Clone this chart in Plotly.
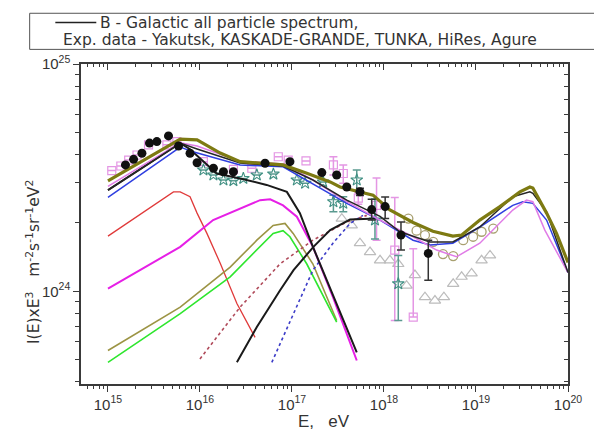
import plotly.graph_objects as go

# ---------------- model curves (E in eV, I(E)E^3) ----------------
E_olive = [1e15, 6.1e15, 9.3e15, 1.66e16, 2.73e16, 5.3e16, 8.0e16, 1.45e17, 2.6e17, 3.33e17,
           7.6e17, 1.16e18, 2.07e18, 3.4e18, 5.6e18, 7.0e18, 1.10e19, 1.82e19, 3.0e19, 3.85e19,
           4.15e19, 5.85e19, 7.5e19, 1e20]
Y_olive = [3.06e24, 4.67e24, 4.64e24, 4.06e24, 3.72e24, 3.66e24, 3.60e24, 3.31e24, 3.03e24, 2.88e24,
           2.65e24, 2.28e24, 2.01e24, 1.84e24, 1.75e24, 1.77e24, 2.06e24, 2.36e24, 2.74e24, 2.88e24,
           2.85e24, 2.21e24, 1.80e24, 1.34e24]

E_total = [1e15, 6.1e15, 9.3e15, 2.73e16, 8.0e16, 1.69e17, 3.94e17, 9.06e17, 1.49e18, 3.16e18,
           5.6e18, 1.10e19, 2.51e19, 3.85e19, 4.15e19, 5.85e19, 1e20]
Y_total = [2.79e24, 4.49e24, 4.23e24, 3.67e24, 3.56e24, 3.09e24, 2.52e24, 2.14e24, 1.83e24, 1.65e24,
           1.65e24, 1.92e24, 2.61e24, 2.74e24, 2.70e24, 2.24e24, 1.21e24]

E_pink = [1e15, 6.1e15, 9.3e15, 2.73e16, 8.0e16, 1.69e17, 3.94e17, 9.06e17, 2.07e18, 3.73e18,
          6.15e18, 1.10e19, 2.51e19, 3.54e19, 4.15e19, 5.6e19, 1e20]
Y_pink = [2.90e24, 4.50e24, 4.36e24, 3.74e24, 3.63e24, 3.09e24, 2.48e24, 2.06e24, 1.74e24, 1.52e24,
          1.42e24, 1.63e24, 2.28e24, 2.52e24, 2.48e24, 1.86e24, 1.21e24]

E_blue = [1e15, 6.1e15, 8.4e15, 2.73e16, 8.0e16, 1.69e17, 3.94e17, 9.06e17, 2.07e18, 3.16e18,
          5.6e18, 1.10e19, 2.51e19, 3.23e19, 4.15e19, 5.85e19, 1e20]
Y_blue = [2.59e24, 4.31e24, 4.11e24, 3.60e24, 3.53e24, 2.97e24, 2.44e24, 2.06e24, 1.68e24, 1.60e24,
          1.63e24, 1.92e24, 2.39e24, 2.48e24, 2.44e24, 2.06e24, 1.21e24]

E_gal = [1e15, 6.1e15, 7.8e15, 1.52e16, 2.73e16, 5.3e16, 8.8e16, 1.22e17, 1.69e17, 2.39e17, 3.59e17, 5.06e17]
Y_gal = [2.79e24, 4.49e24, 4.22e24, 3.30e24, 3.14e24, 2.94e24, 2.74e24, 2.21e24, 1.57e24, 1.12e24, 7.45e23, 5.40e23]

E_red = [1e15, 5.15e15, 6.1e15, 7.8e15, 9.3e15, 1.19e16, 1.66e16, 2.52e16, 3.97e16]
Y_red = [1.75e24, 2.74e24, 2.74e24, 2.61e24, 2.21e24, 1.80e24, 1.33e24, 8.85e23, 6.28e23]

E_mag = [1e15, 6.1e15, 1.39e16, 4.5e16, 5.8e16, 8.0e16, 1.13e17, 1.69e17, 2.79e17, 5.06e17]
Y_mag = [1.03e24, 1.57e24, 2.06e24, 2.52e24, 2.54e24, 2.39e24, 2.13e24, 1.57e24, 9.44e23, 4.97e23]

E_olthin = [1e15, 6.1e15, 2.13e16, 4.15e16, 6.24e16, 8.4e16, 1.03e17, 1.69e17, 3.06e17]
Y_olthin = [5.50e23, 8.53e23, 1.28e24, 1.68e24, 1.95e24, 1.99e24, 1.80e24, 1.32e24, 7.45e23]

E_green = [1e15, 6.1e15, 2.13e16, 6.24e16, 8.0e16, 9.5e16, 1.45e17, 3.06e17]
Y_green = [4.88e23, 7.98e23, 1.16e24, 1.80e24, 1.85e24, 1.74e24, 1.32e24, 7.33e23]

E_xgal = [2.52e16, 4.15e16, 7.4e16, 1.04e17, 1.71e17, 2.6e17, 4.28e17, 8.3e17]
Y_xgal = [4.88e23, 6.97e23, 1.01e24, 1.24e24, 1.57e24, 1.86e24, 2.07e24, 2.09e24]

E_reddot = [1.0e16, 2.73e16, 7.4e16, 1.69e17, 3.94e17, 6.5e17]
Y_reddot = [5.05e23, 8.53e23, 1.32e24, 1.68e24, 2.02e24, 2.16e24]

E_bluedot = [6.04e16, 1.04e17, 1.69e17, 2.79e17, 4.28e17, 5.9e17]
Y_bluedot = [4.88e23, 7.98e23, 1.24e24, 1.63e24, 1.99e24, 2.16e24]

# ---------------- experimental data ----------------
E_yak = [1.55e15, 1.90e15, 2.34e15, 2.83e15, 3.40e15, 4.55e15, 5.85e15, 7.8e15, 9.3e15, 1.40e16,
         1.80e16, 2.31e16, 5.1e16, 9.5e16, 2.11e17, 3.06e17, 3.94e17, 5.48e17, 7.35e17, 1.03e18,
         1.53e18, 3.03e18]
Y_yak = [3.60e24, 3.81e24, 4.05e24, 4.49e24, 4.56e24, 4.83e24, 4.36e24, 4.05e24, 3.68e24, 3.48e24,
         3.36e24, 3.36e24, 3.66e24, 3.72e24, 3.33e24, 3.25e24, 2.88e24, 2.74e24, 2.29e24, 2.36e24,
         1.77e24, 1.47e24]
Yak_err_up = [0]*17 + [0.10e24, 0.25e24, 0.24e24, 0.25e24, 0.21e24]
Yak_err_dn = [0]*17 + [0.10e24, 0.23e24, 0.27e24, 0.25e24, 0.35e24]

E_kg = [1.10e15, 1.38e15, 1.68e15, 2.07e15, 2.76e15, 4.37e15, 5.61e15, 1.09e16, 2.31e16, 3.66e16,
        7.1e16, 9.1e16, 1.42e17, 2.82e17, 3.61e17, 5.26e17, 8.3e17, 1.31e18, 2.08e18]
Y_kg = [3.40e24, 3.56e24, 3.78e24, 3.98e24, 4.41e24, 4.41e24, 4.56e24, 3.72e24, 3.44e24, 3.48e24,
        3.91e24, 3.78e24, 3.75e24, 3.60e24, 3.30e24, 2.57e24, 2.39e24, 1.52e24, 7.71e23]
Kg_err_up = [0]*13 + [0.31e24, 0.30e24, 0.15e24, 0.76e24, 1.07e24, 0.77e24]
Kg_err_dn = [0]*13 + [0.35e24, 0.31e24, 0.15e24, 0.71e24, 0.775e24, 0]

E_tunka = [1.09e16, 1.40e16, 1.80e16, 2.31e16, 2.96e16, 4.15e16, 6.28e16, 1.13e17, 1.39e17, 2.18e17,
           2.82e17, 3.61e17, 5.06e17, 7.98e17, 1.43e18]
Y_tunka = [3.42e24, 3.25e24, 3.09e24, 3.07e24, 3.14e24, 3.25e24, 3.28e24, 3.09e24, 2.99e24, 3.03e24,
           2.48e24, 2.44e24, 3.09e24, 2.06e24, 1.08e24]
Tk_err_up = [0]*10 + [0.17e24, 0.17e24, 0.33e24, 0.49e24, 0.36e24]
Tk_err_dn = [0]*10 + [0.24e24, 0.20e24, 0.30e24, 0.36e24, 0.335e24]

E_hires = [1.84e18, 2.26e18, 2.79e18, 3.43e18, 4.38e18, 5.65e18, 7.26e18, 9.3e18, 1.15e19, 1.54e19]
Y_hires = [2.09e24, 1.85e24, 1.77e24, 1.65e24, 1.46e24, 1.43e24, 1.68e24, 1.74e24, 1.83e24, 1.89e24]

E_agure = [3.48e17, 4.46e17, 5.48e17, 7.05e17, 9.06e17, 1.16e18, 1.43e18, 1.76e18, 2.17e18, 2.79e18,
           3.58e18, 4.48e18, 5.65e18, 6.98e18, 8.96e18, 1.15e19, 1.42e19]
Y_agure = [2.09e24, 1.95e24, 1.63e24, 1.49e24, 1.37e24, 1.37e24, 1.32e24, 1.06e24, 1.18e24, 9.44e23,
           9.12e23, 9.44e23, 1.08e24, 1.16e24, 1.20e24, 1.37e24, 1.44e24]

x_tickvals = [1e15, 1e16, 1e17, 1e18, 1e19, 1e20]
x_ticktext = ["10<sup>15</sup>", "10<sup>16</sup>", "10<sup>17</sup>", "10<sup>18</sup>",
              "10<sup>19</sup>", "10<sup>20</sup>"]
y_tickvals = [1e24, 1e25]
y_ticktext = ["10<sup>24</sup>", "10<sup>25</sup>"]

FONT = "Liberation Sans, Arial, sans-serif"
WFONT = "DejaVu Sans, Verdana, sans-serif"
AX = "#3a3a3a"
NB = "\u00a0"

fig = go.Figure()


def line(x, y, color, width, dash="solid"):
    fig.add_trace(go.Scatter(x=x, y=y, mode="lines", line=dict(color=color, width=width, dash=dash),
                             showlegend=False, hoverinfo="skip"))


# experimental points first (drawn under lines)
fig.add_trace(go.Scatter(x=E_agure, y=Y_agure, mode="markers", showlegend=False,
                         marker=dict(symbol="triangle-up-open", size=10, color="#bcbcbc", line=dict(width=1.2))))
fig.add_trace(go.Scatter(x=E_hires, y=Y_hires, mode="markers", showlegend=False,
                         marker=dict(symbol="circle-open", size=9, color="#a8a070", line=dict(width=1.3))))
fig.add_trace(go.Scatter(x=E_kg, y=Y_kg, mode="markers", showlegend=False,
                         marker=dict(symbol="square-open", size=8, color="#e496e4", line=dict(width=1.2)),
                         error_y=dict(type="data", array=Kg_err_up, arrayminus=Kg_err_dn, color="#e496e4",
                                      thickness=1.5, width=4)))
fig.add_trace(go.Scatter(x=E_tunka, y=Y_tunka, mode="markers", showlegend=False,
                         marker=dict(symbol="star-open", size=9, color="#3f8f82", line=dict(width=1.1)),
                         error_y=dict(type="data", array=Tk_err_up, arrayminus=Tk_err_dn, color="#5b9a90",
                                      thickness=1.5, width=4)))

# model curves
line(E_red, Y_red, "#e03a3a", 1.3)
line(E_mag, Y_mag, "#e61fe6", 2)
line(E_olthin, Y_olthin, "#9c9444", 1.6)
line(E_green, Y_green, "#2ee62e", 1.6)
line(E_reddot, Y_reddot, "#b04a5a", 1.6, "dot")
line(E_bluedot, Y_bluedot, "#3c3cc8", 1.6, "dot")
line(E_xgal, Y_xgal, "#1a1a1a", 2)
line(E_gal, Y_gal, "#1a1a1a", 2)
line(E_blue, Y_blue, "#2f3fe0", 1.5)
line(E_pink, Y_pink, "#e07ce6", 1.5)
line(E_total, Y_total, "#262626", 1.5)
line(E_olive, Y_olive, "#7d7a12", 3.2)

fig.add_trace(go.Scatter(x=E_yak, y=Y_yak, mode="markers", showlegend=False,
                         marker=dict(symbol="circle", size=9, color="#101010"),
                         error_y=dict(type="data", array=Yak_err_up, arrayminus=Yak_err_dn, color="#333333",
                                      thickness=1.5, width=4)))

# dummy trace to enable mirrored (inside-tick) axes
fig.add_trace(go.Scatter(x=[1e15], y=[1e24], xaxis="x2", yaxis="y2", mode="markers",
                         marker=dict(opacity=0), showlegend=False, hoverinfo="skip"))

xminor = [m * 10.0 ** d for d in range(14, 20) for m in range(2, 10) if 10 ** 14.7 <= m * 10.0 ** d <= 1e20]
yminor = [m * 10.0 ** d for d in range(23, 25) for m in range(2, 10) if 10 ** 23.59 <= m * 10.0 ** d <= 1e25]

xr = [14.707, 20.0]
yr = [23.593, 25.0]

fig.update_layout(
    width=594, height=440,
    margin=dict(l=81, r=26, t=64, b=56),
    paper_bgcolor="white", plot_bgcolor="white",
    font=dict(family=FONT, color="#333333"),
    showlegend=False,
    xaxis=dict(type="log", range=xr, showgrid=False, zeroline=False,
               showline=True, linecolor=AX, linewidth=1.5,
               ticks="outside", ticklen=6, tickwidth=1.3, tickcolor=AX,
               tickmode="array", tickvals=x_tickvals, ticktext=x_ticktext,
               tickfont=dict(size=15, family=FONT, color="#333333"),
               minor=dict(ticks="outside", ticklen=3, tickwidth=1.1, tickcolor=AX,
                          tickmode="array", tickvals=xminor, showgrid=False)),
    yaxis=dict(type="log", range=yr, showgrid=False, zeroline=False,
               showline=True, linecolor=AX, linewidth=1.5,
               ticks="outside", ticklen=6, tickwidth=1.3, tickcolor=AX,
               tickmode="array", tickvals=y_tickvals, ticktext=y_ticktext,
               tickfont=dict(size=15, family=FONT, color="#333333"),
               minor=dict(ticks="outside", ticklen=4, tickwidth=1.1, tickcolor=AX,
                          tickmode="array", tickvals=yminor, showgrid=False)),
    xaxis2=dict(type="log", range=xr, overlaying="x", side="top", anchor="y2",
                showgrid=False, zeroline=False, showline=True, linecolor=AX, linewidth=1.5,
                ticks="inside", ticklen=6, tickwidth=1.3, tickcolor=AX,
                tickmode="array", tickvals=x_tickvals, showticklabels=False,
                minor=dict(ticks="inside", ticklen=3, tickwidth=1.1, tickcolor=AX,
                           tickmode="array", tickvals=xminor, showgrid=False)),
    yaxis2=dict(type="log", range=yr, overlaying="y", side="right", anchor="x2",
                showgrid=False, zeroline=False, showline=True, linecolor=AX, linewidth=1.5,
                ticks="inside", ticklen=6, tickwidth=1.3, tickcolor=AX,
                tickmode="array", tickvals=y_tickvals, showticklabels=False,
                minor=dict(ticks="inside", ticklen=4, tickwidth=1.1, tickcolor=AX,
                           tickmode="array", tickvals=yminor, showgrid=False)),
)

# axis titles
fig.add_annotation(text="E," + NB * 3 + "eV", xref="paper", yref="paper", x=0.499, y=-0.152,
                   showarrow=False, font=dict(size=17, family=FONT, color="#333333"))
fig.add_annotation(text="I(E)xE<sup>3</sup>" + NB * 3 +
                   "m<sup>-2</sup>s<sup>-1</sup>sr<sup>-1</sup>eV<sup>2</sup>",
                   xref="paper", yref="paper", x=-0.1245, y=0.381, textangle=-90,
                   showarrow=False, font=dict(size=15.5, family=WFONT, color="#333333"))

# legend box
fig.add_shape(type="rect", xref="paper", yref="paper", x0=-0.1054, x1=1.08, y0=1.0457, y1=1.1585,
              line=dict(color="#555555", width=1), fillcolor="rgba(0,0,0,0)")
fig.add_shape(type="line", xref="paper", yref="paper", x0=-0.0527, x1=0.0314, y0=1.1294, y1=1.1294,
              line=dict(color="#222222", width=1.5))
fig.add_annotation(text="B - Galactic all particle spectrum,", xref="paper", yref="paper",
                   x=0.0355, y=1.1294, xanchor="left", yanchor="middle", showarrow=False,
                   font=dict(size=15.5, family=WFONT, color="#333333"))
fig.add_annotation(text="Exp. data - Yakutsk, KASKADE-GRANDE, TUNKA, HiRes, Agure", xref="paper", yref="paper",
                   x=-0.0404, y=1.0761, xanchor="left", yanchor="middle", showarrow=False,
                   font=dict(size=15.5, family=WFONT, color="#333333"))

fig.write_html("out.html", config={"displayModeBar": False},
               post_script="document.body.style.margin='0px';")
